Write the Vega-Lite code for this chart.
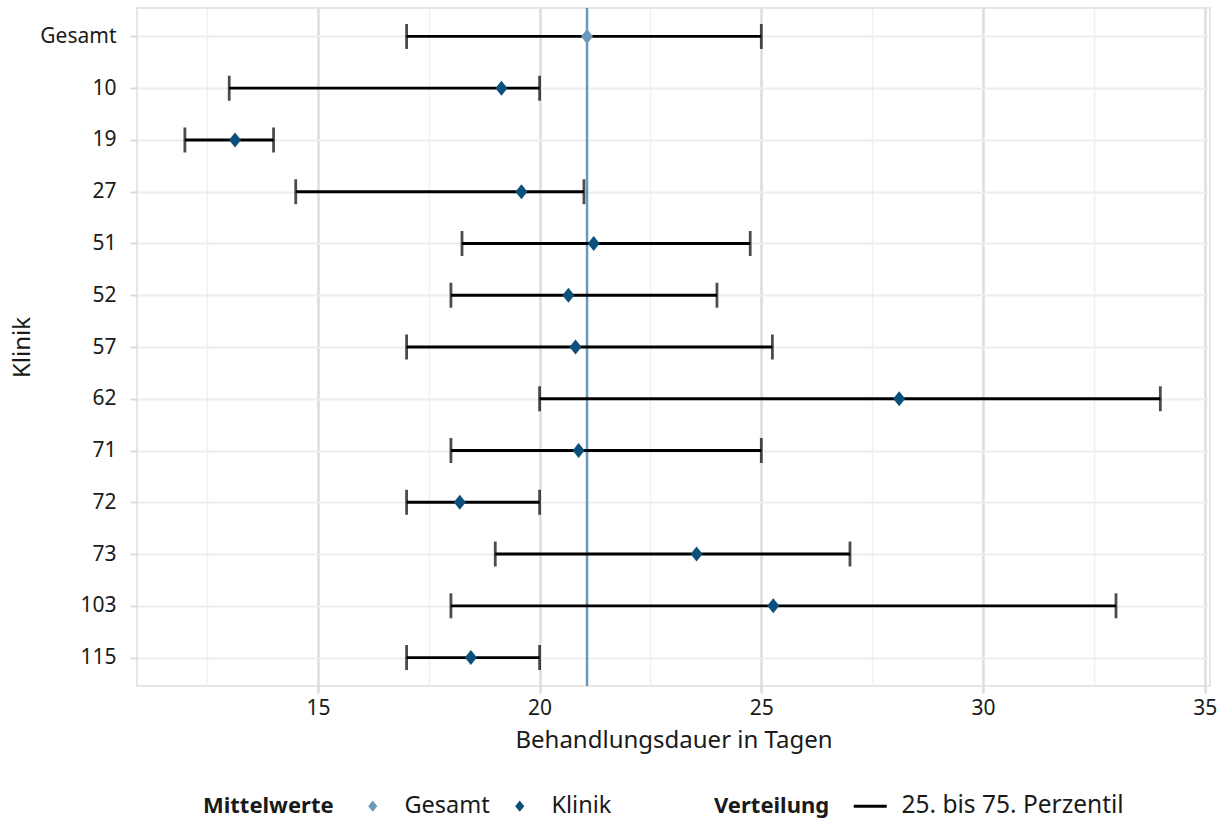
{
  "$schema": "https://vega.github.io/schema/vega-lite/v6.json",
  "width": 1073,
  "height": 678,
  "autosize": {"type": "none"},
  "padding": {"left": 137, "top": 8, "right": 13, "bottom": 135},
  "background": "white",
  "config": {
    "font": "Noto Sans",
    "view": {"stroke": "#dedede", "strokeWidth": 1.5},
    "axis": {"labelFont": "Noto Sans", "titleFont": "Noto Sans", "labelColor": "#1a1a1a", "titleColor": "#1a1a1a", "titleFontWeight": "normal"},
    "legend": {
      "direction": "horizontal",
      "titleOrient": "left",
      "titleFontWeight": "bold",
      "titleFontSize": 22,
      "labelFontSize": 23.5,
      "titleFont": "Noto Sans",
      "labelFont": "Noto Sans",
      "titleColor": "#1a1a1a",
      "labelColor": "#1a1a1a",
      "labelLimit": 500,
      "titleLimit": 500
    }
  },
  "data": {
    "values": [
      {"klinik": "Gesamt", "q25": 17, "q75": 25, "mean": 21.07, "typ": "Gesamt", "verteilung": "25. bis 75. Perzentil"},
      {"klinik": "10", "q25": 13, "q75": 20, "mean": 19.14, "typ": "Klinik", "verteilung": "25. bis 75. Perzentil"},
      {"klinik": "19", "q25": 12, "q75": 14, "mean": 13.13, "typ": "Klinik", "verteilung": "25. bis 75. Perzentil"},
      {"klinik": "27", "q25": 14.5, "q75": 21, "mean": 19.59, "typ": "Klinik", "verteilung": "25. bis 75. Perzentil"},
      {"klinik": "51", "q25": 18.25, "q75": 24.75, "mean": 21.22, "typ": "Klinik", "verteilung": "25. bis 75. Perzentil"},
      {"klinik": "52", "q25": 18, "q75": 24, "mean": 20.65, "typ": "Klinik", "verteilung": "25. bis 75. Perzentil"},
      {"klinik": "57", "q25": 17, "q75": 25.25, "mean": 20.81, "typ": "Klinik", "verteilung": "25. bis 75. Perzentil"},
      {"klinik": "62", "q25": 20, "q75": 34, "mean": 28.11, "typ": "Klinik", "verteilung": "25. bis 75. Perzentil"},
      {"klinik": "71", "q25": 18, "q75": 25, "mean": 20.88, "typ": "Klinik", "verteilung": "25. bis 75. Perzentil"},
      {"klinik": "72", "q25": 17, "q75": 20, "mean": 18.2, "typ": "Klinik", "verteilung": "25. bis 75. Perzentil"},
      {"klinik": "73", "q25": 19, "q75": 27, "mean": 23.54, "typ": "Klinik", "verteilung": "25. bis 75. Perzentil"},
      {"klinik": "103", "q25": 18, "q75": 33, "mean": 25.27, "typ": "Klinik", "verteilung": "25. bis 75. Perzentil"},
      {"klinik": "115", "q25": 17, "q75": 20, "mean": 18.45, "typ": "Klinik", "verteilung": "25. bis 75. Perzentil"}
    ]
  },
  "layer": [
    {
      "transform": [{"filter": "datum.typ === 'Gesamt'"}],
      "mark": {"type": "rule", "color": "#6a98b9", "strokeWidth": 2.5},
      "encoding": {"x": {"field": "mean", "type": "quantitative"}}
    },
    {
      "mark": {"type": "rule", "strokeWidth": 2.8},
      "encoding": {
        "x": {
          "field": "q25",
          "type": "quantitative",
          "scale": {"domain": [10.92, 35.12], "nice": false, "zero": false},
          "axis": {
            "title": "Behandlungsdauer in Tagen",
            "titleFontSize": 24,
            "titlePadding": 10,
            "labelFontSize": 21,
            "labelPadding": 4,
            "values": [12.5, 15, 17.5, 20, 22.5, 25, 27.5, 30, 32.5, 35],
            "labelExpr": "datum.value % 5 === 0 ? datum.label : ''",
            "domain": false,
            "grid": true,
            "gridColor": {"condition": {"test": "datum.value % 5 !== 0", "value": "#f0f0f0"}, "value": "#dcdcdc"},
            "gridWidth": {"condition": {"test": "datum.value % 5 !== 0", "value": 1.5}, "value": 2.5},
            "ticks": true,
            "tickSize": 7,
            "tickColor": "#dcdcdc",
            "tickWidth": 2.5,
            "tickOpacity": {"condition": {"test": "datum.value % 5 !== 0", "value": 0}, "value": 1}
          }
        },
        "x2": {"field": "q75"},
        "y": {
          "field": "klinik",
          "type": "nominal",
          "sort": null,
          "scale": {"type": "point", "padding": 0.55},
          "axis": {
            "title": "Klinik",
            "titleFontSize": 24,
            "titlePadding": 5,
            "labelFontSize": 21,
            "labelPadding": 14,
            "domain": false,
            "grid": true,
            "gridColor": "#ededed",
            "gridWidth": 2,
            "ticks": true,
            "tickSize": 7,
            "tickColor": "#dcdcdc",
            "tickWidth": 2
          }
        },
        "stroke": {
          "field": "verteilung",
          "type": "nominal",
          "scale": {"domain": ["25. bis 75. Perzentil"], "range": ["black"]},
          "legend": {"title": "Verteilung", "orient": "none", "legendX": 577, "legendY": 786, "symbolType": "M-2,0L2,0", "symbolStrokeWidth": 2.8, "symbolSize": 272, "titlePadding": 28, "labelOffset": 19, "labelFontSize": 24.5}
        }
      }
    },
    {
      "mark": {"type": "tick", "color": "black", "size": 25, "thickness": 2.8},
      "encoding": {
        "x": {"field": "q25", "type": "quantitative"},
        "y": {"field": "klinik", "type": "nominal", "sort": null}
      }
    },
    {
      "mark": {"type": "tick", "color": "black", "size": 25, "thickness": 2.8},
      "encoding": {
        "x": {"field": "q75", "type": "quantitative"},
        "y": {"field": "klinik", "type": "nominal", "sort": null}
      }
    },
    {
      "mark": {"type": "point", "filled": true, "opacity": 1, "strokeWidth": 0, "size": 225, "shape": "M-0.8,0L0,-1L0.8,0L0,1Z"},
      "encoding": {
        "x": {"field": "mean", "type": "quantitative"},
        "y": {"field": "klinik", "type": "nominal", "sort": null},
        "fill": {
          "field": "typ",
          "type": "nominal",
          "scale": {"domain": ["Gesamt", "Klinik"], "range": ["#6a98b9", "#0b4f7b"]},
          "legend": {"title": "Mittelwerte", "orient": "none", "legendX": 66, "legendY": 786, "symbolType": "M-0.8,0L0,-1L0.8,0L0,1Z", "symbolSize": 130, "titlePadding": 27, "labelOffset": 20, "columnPadding": 18}
        }
      }
    }
  ]
}
